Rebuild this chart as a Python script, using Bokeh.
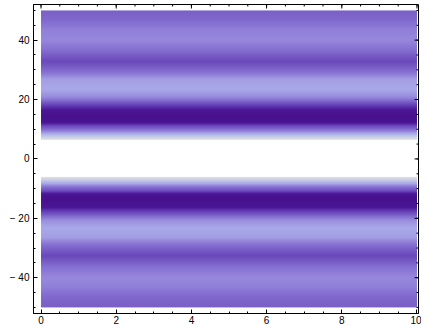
import numpy as np
from bokeh.plotting import figure
from bokeh.models import LinearColorMapper, FixedTicker, LinearAxis, Range1d
from bokeh.embed import file_html
from bokeh.resources import INLINE

# ---- data (upper half; the field is mirrored in y) ----
y_levels = [6.1, 6.4, 7.1, 8.4, 9.7, 11.4, 12.4, 14.1, 15.8, 18.2, 19.8, 20.8,
            23.2, 26.6, 29.2, 32.6, 36.6, 40.0, 43.4, 46.7, 50.0]
z_levels = [0.97, 0.95, 0.87, 0.72, 0.46, 0.18, 0.05, 0.03, 0.08, 0.25, 0.50, 0.62,
            0.72, 0.68, 0.46, 0.25, 0.48, 0.60, 0.55, 0.43, 0.38]
gap_half = 6.1
x_extent = [0, 10]
y_extent = [-50, 50]

x_ticks = [0, 2, 4, 6, 8, 10]
y_ticks = [-40, -20, 0, 20, 40]
y_tick_labels = {-40: "\u2212 40", -20: "\u2212 20", 0: "0", 20: "20", 40: "40"}

# ---- palette (LakeColors-like) ----
pal_pos = [0.0, 0.12, 0.25, 0.40, 0.50, 0.60, 0.72, 0.85, 1.0]
pal_col = ["#47108c", "#4c1898", "#6a48bc", "#7c62c8", "#8874d4", "#9888dc",
           "#a8a8e8", "#c4cce8", "#ece8d4"]

def hex2rgb(h):
    h = h.lstrip("#")
    return [int(h[i:i + 2], 16) for i in (0, 2, 4)]

rgb = np.array([hex2rgb(c) for c in pal_col], dtype=float)
t = np.linspace(0, 1, 256)
palette = []
for v in t:
    r = np.interp(v, pal_pos, rgb[:, 0])
    g = np.interp(v, pal_pos, rgb[:, 1])
    b = np.interp(v, pal_pos, rgb[:, 2])
    palette.append("#%02x%02x%02x" % (int(round(r)), int(round(g)), int(round(b))))

mapper = LinearColorMapper(palette=palette, low=0, high=1, nan_color="white")

# ---- image field ----
ny = 600
dh = y_extent[1] - y_extent[0]
yc = y_extent[0] + (np.arange(ny) + 0.5) * dh / ny
col = np.interp(np.abs(yc), y_levels, z_levels)
col[np.abs(yc) < gap_half] = np.nan
Z = np.repeat(col[:, None], 2, axis=1)

p = figure(width=421, height=326,
           x_range=Range1d(-0.2, 10.04), y_range=Range1d(-52.05, 52.0),
           output_backend="svg", toolbar_location=None,
           min_border_left=33, min_border_right=3, min_border_top=4,
           min_border_bottom=13, x_axis_location=None, y_axis_location=None)
p.grid.visible = False
p.background_fill_color = "white"
p.border_fill_color = "white"
p.outline_line_color = "black"
p.outline_line_width = 1

p.image(image=[Z], x=x_extent[0], y=y_extent[0], dw=x_extent[1] - x_extent[0], dh=dh,
        color_mapper=mapper)

x_minor = list(np.arange(0, 10.001, 0.5))
y_minor = list(np.arange(-50, 50.001, 5))

def style(ax):
    ax.axis_line_color = "black"
    ax.major_tick_line_color = "black"
    ax.minor_tick_line_color = "black"
    ax.major_tick_in = 4
    ax.major_tick_out = 0
    ax.minor_tick_in = 2
    ax.minor_tick_out = 0
    ax.major_label_text_font = "Liberation Sans"
    ax.major_label_text_font_size = "10px"
    ax.major_label_text_color = "#000000"
    ax.major_label_standoff = 3

bottom = LinearAxis(ticker=FixedTicker(ticks=x_ticks, minor_ticks=x_minor))
style(bottom)
bottom.major_label_standoff = 2
p.add_layout(bottom, "below")
left = LinearAxis(ticker=FixedTicker(ticks=y_ticks, minor_ticks=y_minor),
                  major_label_overrides=y_tick_labels)
style(left)
left.major_label_standoff = 4
p.add_layout(left, "left")

# mirrored ticks on the top and right frame edges (no labels)
y_top = p.y_range.end
x_right = p.x_range.end
p.ray(x=x_ticks, y=[y_top] * len(x_ticks), length=4, length_units="screen",
      angle=-np.pi / 2, line_color="black", line_width=1)
p.ray(x=x_minor, y=[y_top] * len(x_minor), length=2, length_units="screen",
      angle=-np.pi / 2, line_color="black", line_width=1)
p.ray(x=[x_right] * len(y_ticks), y=y_ticks, length=4, length_units="screen",
      angle=np.pi, line_color="black", line_width=1)
p.ray(x=[x_right] * len(y_minor), y=y_minor, length=2, length_units="screen",
      angle=np.pi, line_color="black", line_width=1)

open("out.html", "w").write(file_html(p, INLINE))
